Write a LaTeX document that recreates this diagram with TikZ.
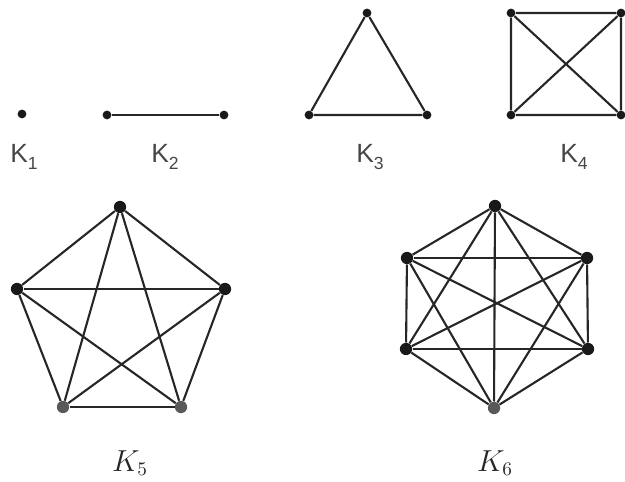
\documentclass[tikz,border=0pt]{standalone}
\usepackage{fontspec}
\newfontfamily\labelsans{Liberation Sans}
\colorlet{vertexink}{black!90}
\colorlet{lowink}{black!65}
\colorlet{labelink}{black!72}
\newcommand{\sanssub}[1]{\raisebox{-0.45ex}{\fontsize{10}{10}\selectfont #1}}

\begin{document}
\begin{tikzpicture}[x=0.02cm,y=-0.02cm,
  smalldot/.style={circle,fill=vertexink,inner sep=0pt,minimum size=5pt},
  bigdot/.style={circle,fill=vertexink,inner sep=0pt,minimum size=7pt},
  edge/.style={line width=1.2pt,black!85},
  sanslabel/.style={text=labelink,font=\labelsans\fontsize{15}{17}\selectfont},
  mathlabel/.style={text=black!85,font=\fontsize{16}{18}\selectfont}]
  \useasboundingbox (0,0) rectangle (625,482);
  \node[smalldot] (a1) at (22,114) {};
  \node[sanslabel] (la1) at (24,157) {K\sanssub{1}};
  \node[smalldot] (b1) at (107,115) {};
  \node[smalldot] (b2) at (224,115) {};
  \draw[edge] (b1) -- (b2);
  \node[sanslabel] (lb) at (165,157) {K\sanssub{2}};
  \node[smalldot] (c1) at (367,13) {};
  \node[smalldot] (c2) at (309,115) {};
  \node[smalldot] (c3) at (427,115) {};
  \draw[edge] (c1) -- (c2) -- (c3) -- (c1);
  \node[sanslabel] (lc) at (370,157) {K\sanssub{3}};
  \node[smalldot] (d1) at (511,13) {};
  \node[smalldot] (d2) at (621,13) {};
  \node[smalldot] (d3) at (621,115) {};
  \node[smalldot] (d4) at (511,115) {};
  \draw[edge] (d1) -- (d2) -- (d3) -- (d4) -- (d1) -- (d3);
  \draw[edge] (d2) -- (d4);
  \node[sanslabel] (ld) at (574,157) {K\sanssub{4}};
  \node[bigdot] (e1) at (120,207) {};
  \node[bigdot] (e2) at (225,289) {};
  \node[bigdot,fill=lowink] (e3) at (181,407) {};
  \node[bigdot,fill=lowink] (e4) at (63,407) {};
  \node[bigdot] (e5) at (17,289) {};
  \foreach \i/\j in {1/2,1/3,1/4,1/5,2/3,2/4,2/5,3/4,3/5,4/5}
    \draw[edge] (e\i) -- (e\j);
  \node[mathlabel] (le) at (130,463) {$K_5$};
  \node[bigdot] (f1) at (495,206) {};
  \node[bigdot] (f2) at (587,258) {};
  \node[bigdot] (f3) at (588,349) {};
  \node[bigdot,fill=lowink] (f4) at (494,408) {};
  \node[bigdot] (f5) at (406,349) {};
  \node[bigdot] (f6) at (407,258) {};
  \foreach \i in {1,...,5}{
    \pgfmathtruncatemacro{\nxt}{\i+1}
    \foreach \j in {\nxt,...,6}
      \draw[edge] (f\i) -- (f\j);
  }
  \node[mathlabel] (lf) at (495,463) {$K_6$};
\end{tikzpicture}
\end{document}
